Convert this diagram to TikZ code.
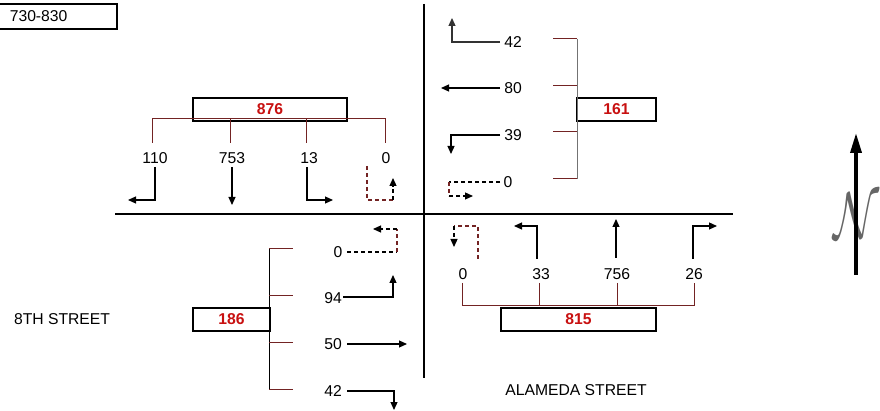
\documentclass[tikz,border=0pt]{standalone}
\usepackage{fontspec}
\usepackage{graphicx}
\setmainfont{Liberation Sans}
\usetikzlibrary{arrows.meta}
\definecolor{brn}{RGB}{115,35,35}
\definecolor{vred}{RGB}{200,16,16}
\begin{document}
\begin{tikzpicture}[x=1pt,y=-1pt,
  every node/.style={font=\fontsize{15.7}{18}\selectfont, inner sep=0pt},
  vol/.style={draw, line width=1.6pt, font=\fontsize{15.7}{18}\selectfont\bfseries, text=vred, minimum height=23pt},
  street/.style={line width=2pt},
  brk/.style={brn, line width=1pt},
  mv/.style={line width=1.2pt, -{Triangle[length=8pt,width=7pt]}},
  dsh/.style={line width=1.2pt, dash pattern=on 4pt off 3pt},
  mvd/.style={mv, dash pattern=on 4pt off 3pt},
]
\useasboundingbox (0,0) rectangle (880,411);
% time box
\node[draw, line width=1.6pt, anchor=north west, minimum height=25pt, text width=118pt, align=left] (time) at (-2,3) {\hspace*{11pt}730-830};
% streets
\coordinate (hw) at (115,214); \coordinate (he) at (733,214);
\coordinate (vn) at (424,4); \coordinate (vs) at (424,378);
\draw[street] (hw) -- (he);
\draw[street] (vn) -- (vs);
% street names
\node (s8) at (62,319) {8TH STREET};
\node (sal) at (576,390) {ALAMEDA STREET};

% ---------- north approach ----------
\node[vol, minimum width=154pt] (b876) at (270,109.5) {876};
\draw[brk] (152,143) -- (152,119) -- (385,119) -- (385,143);
\draw[brk] (230,119) -- (230,143);
\draw[brk] (306,119) -- (306,143);
\node (n110) at (155,158) {110};
\node (n753) at (232,158) {753};
\node (n13) at (309,158) {13};
\node (n0) at (386,158) {0};
\draw[mv] (155,167) |- (128,200);
\draw[mv] (232,167) -- (232,205);
\draw[mv] (307,167) |- (333,200);
\draw[dsh, brn] (367,166) -- (367,200) -- (393,200);
\draw[mvd] (393,200) -- (393,178);

% ---------- east approach ----------
\node[vol, minimum width=79pt] (b161) at (616.5,109.5) {161};
\draw[brk, black!55] (577,39) -- (577,179);
\foreach \yy in {39,86,132,179} \draw[brk] (553,\yy) -- (577,\yy);
\node (e42) at (513,42) {42};
\node (e80) at (513,88) {80};
\node (e39) at (513,135) {39};
\node (e0) at (508,182) {0};
\draw[mv, black!80] (500,42) -| (452,18);
\draw[mv] (500,88) -- (441,88);
\draw[mv] (500,135) -| (451,154);
\draw[dsh] (500,182) -- (449,182);
\draw[dsh, brn] (449,182) -- (449,196);
\draw[mvd] (449,196) -- (473,196);

% ---------- west approach ----------
\node[vol, minimum width=77pt] (b186) at (231.5,319.5) {186};
\draw[brk, black] (269,249) -- (269,389);
\foreach \yy in {249,296,342,389} \draw[brk] (269,\yy) -- (293,\yy);
\node (w0) at (338,252) {0};
\node (w94) at (333,298) {94};
\node (w50) at (333,344) {50};
\node (w42) at (333,391) {42};
\draw[dsh] (347,252) -- (397,252);
\draw[dsh, brn] (397,252) -- (397,229);
\draw[mvd] (397,229) -- (373,229);
\draw[mv] (343,297) -| (393,275);
\draw[mv] (347,344) -- (407,344);
\draw[mv] (347,391) -| (394,410);

% ---------- south approach ----------
\node[vol, minimum width=155pt] (b815) at (578.5,319.5) {815};
\draw[brk] (462,283) -- (462,306) -- (694,306) -- (694,283);
\draw[brk] (539,283) -- (539,306);
\draw[brk] (617,283) -- (617,306);
\node (s0) at (463,274) {0};
\node (s33) at (541,274) {33};
\node (s756) at (617,274) {756};
\node (s26) at (694,274) {26};
\draw[dsh, brn] (478,259) -- (478,226) -- (454,226);
\draw[mvd] (454,226) -- (454,247);
\draw[mv] (537,259) |- (514,226);
\draw[mv] (616,258) -- (616,219);
\draw[mv] (693,259) |- (717,226);

% ---------- north arrow ----------
\node[text=black!60] (nn) at (856,216) {\scalebox{3.3}[4.6]{$\mathcal{N}$}};
\coordinate (na) at (856,275); \coordinate (nb) at (856,133);
\draw[line width=3.5pt, -{Triangle[length=20pt,width=11pt]}] (na) -- (nb);
\end{tikzpicture}
\end{document}
